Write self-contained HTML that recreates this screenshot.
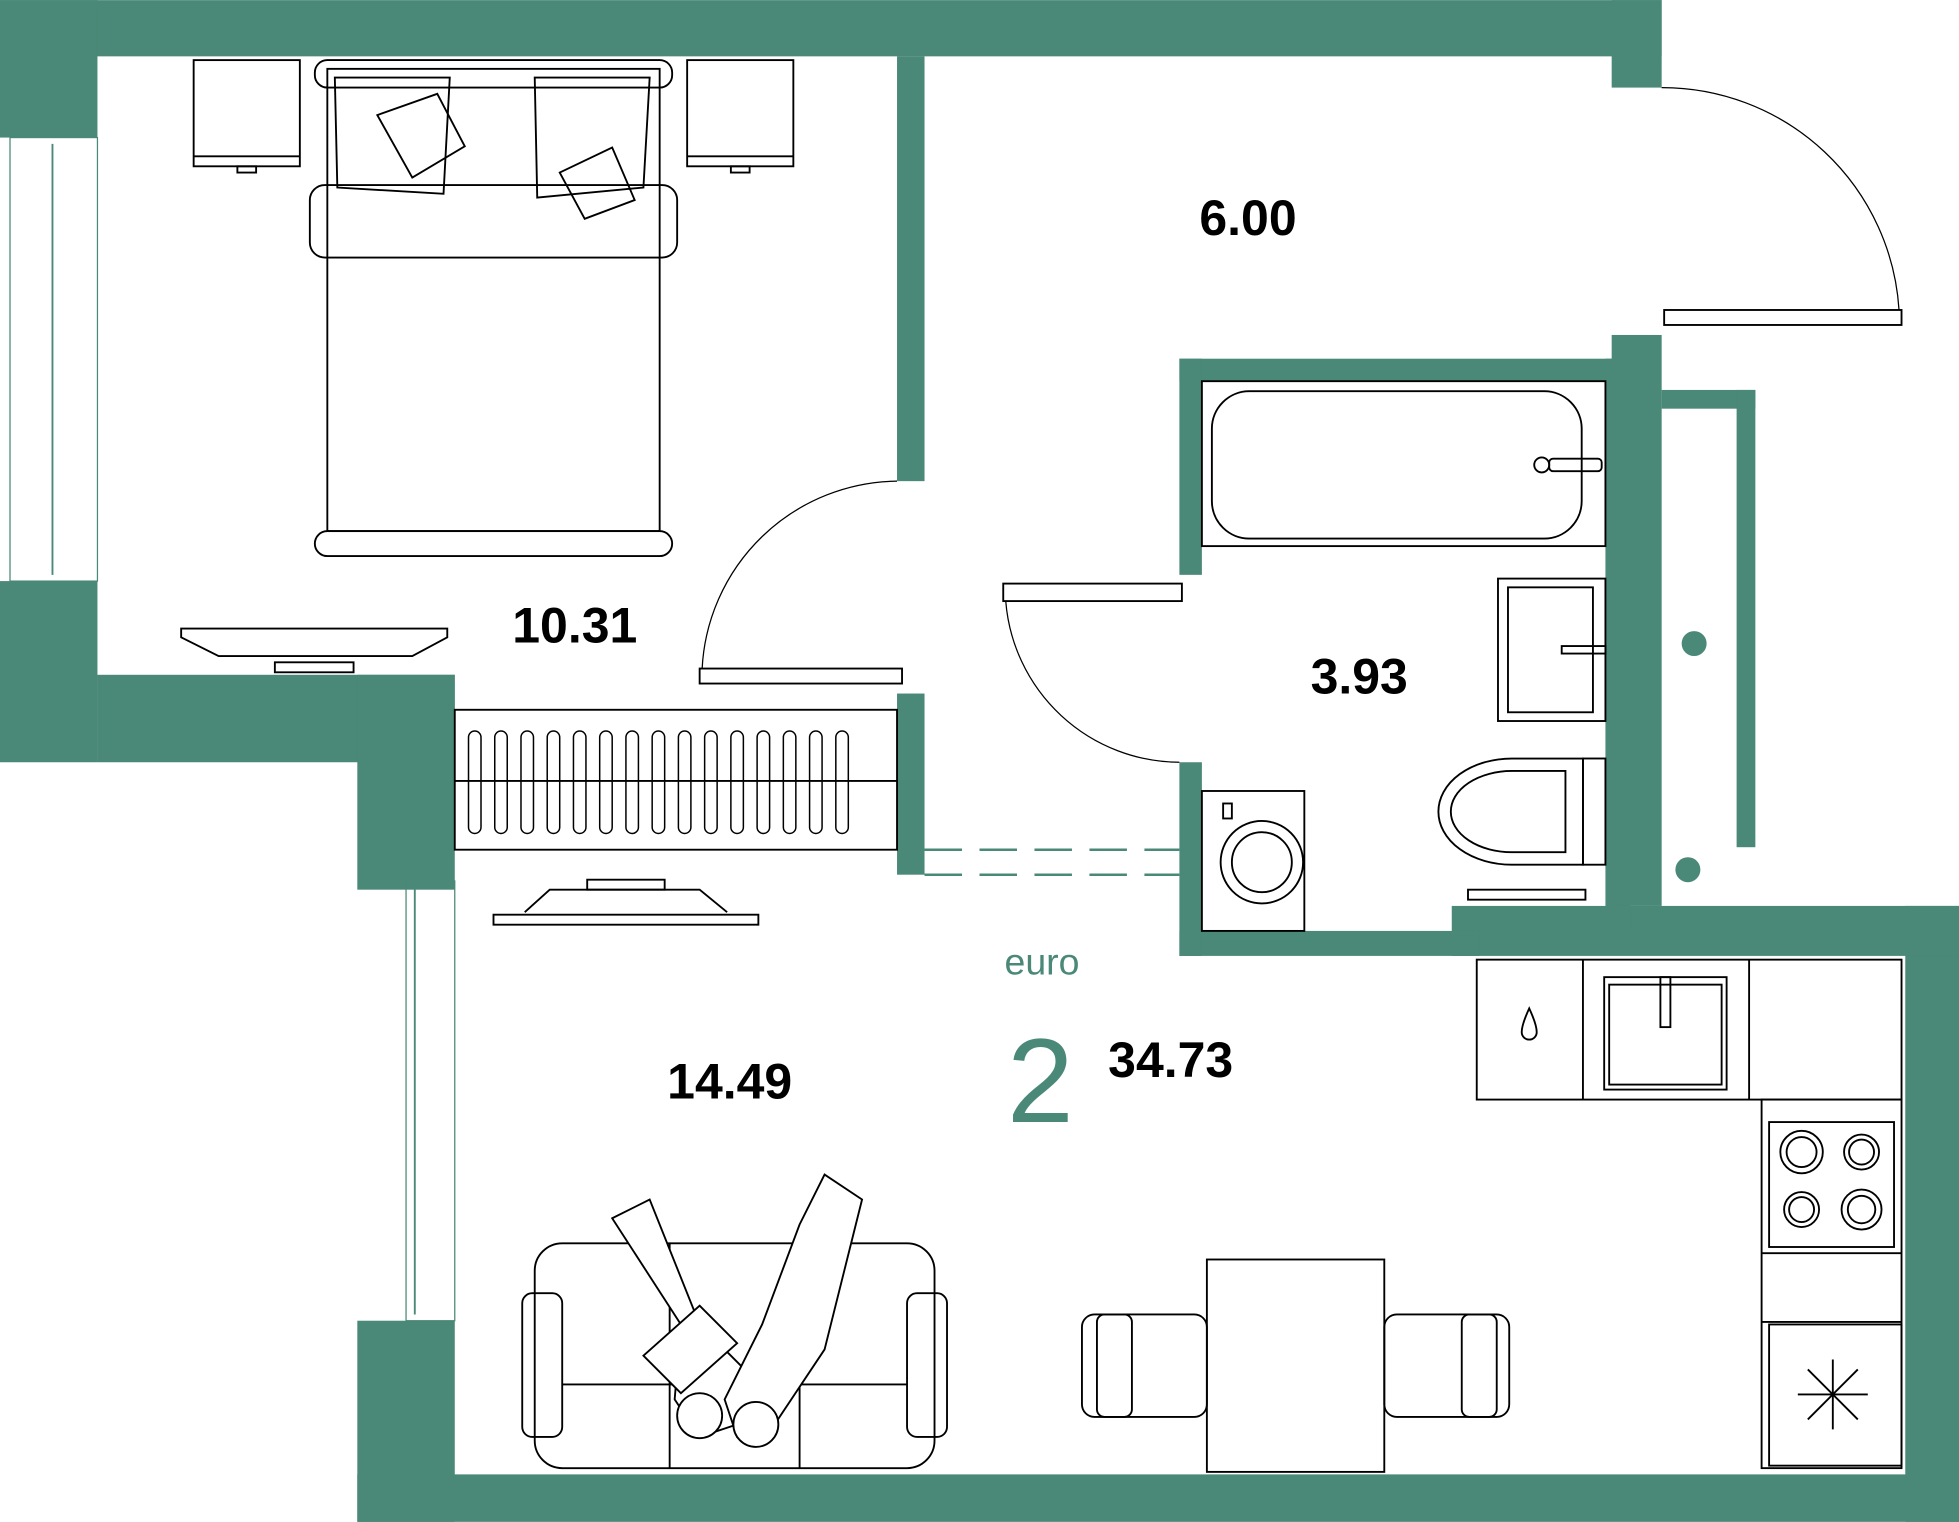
<!DOCTYPE html>
<html><head><meta charset="utf-8"><style>
html,body{margin:0;padding:0;background:#fff;width:1959px;height:1522px;overflow:hidden}
svg{display:block}
text{font-family:"Liberation Sans",sans-serif}
</style></head><body>
<svg width="1959" height="1522" viewBox="0 0 1568 1218" xmlns="http://www.w3.org/2000/svg">
<g fill="#4a8877">
<!-- top wall -->
<rect x="0" y="0" width="1330" height="45"/>
<rect x="1290" y="0" width="40" height="70"/>
<rect x="0" y="0" width="78" height="110"/>
<rect x="0" y="465" width="78" height="145"/>
<rect x="78" y="540" width="286" height="70"/>
<rect x="286" y="540" width="78" height="172"/>
<rect x="286" y="1057" width="78" height="161"/>
<rect x="286" y="1180" width="1282" height="38"/>
<rect x="1525" y="725" width="43" height="493"/>
<rect x="1162" y="725" width="406" height="40"/>
<rect x="944" y="745" width="240" height="20"/>
<!-- bedroom wall -->
<rect x="718" y="45" width="22" height="340"/>
<rect x="718" y="555" width="22" height="145"/>
<!-- bathroom -->
<rect x="944" y="287" width="360" height="18"/>
<rect x="944" y="287" width="18" height="173"/>
<rect x="944" y="610" width="18" height="155"/>
<rect x="1285" y="287" width="20" height="458"/>
<rect x="1290" y="268" width="40" height="457"/>
<!-- balcony rail -->
<rect x="1330" y="312" width="75" height="15"/>
<rect x="1390" y="312" width="15" height="366"/>
<circle cx="1356" cy="515" r="10"/>
<circle cx="1351" cy="696" r="10"/>
</g>
<g fill="none" stroke="#000" stroke-width="1.5">
<!-- windows -->
<rect x="8" y="110" width="70" height="355" stroke="#4a8877" stroke-width="1"/>
<line x1="42" y1="115" x2="42" y2="460" stroke="#4a8877"/>
<rect x="325" y="705" width="39" height="352" stroke="#4a8877" stroke-width="1"/>
<line x1="332" y1="710" x2="332" y2="1052" stroke="#4a8877"/>
<!-- dashed opening -->
<line x1="740" y1="680" x2="944" y2="680" stroke="#4a8877" stroke-dasharray="30,14" stroke-width="2"/>
<line x1="740" y1="700" x2="944" y2="700" stroke="#4a8877" stroke-dasharray="30,14" stroke-width="2"/>
<!-- doors -->
<rect x="1332" y="248" width="190" height="12"/>
<path d="M1330 70 A190 190 0 0 1 1520 248" stroke-width="1"/>
<rect x="560" y="535" width="162" height="12"/>
<path d="M718 385 A158 158 0 0 0 562 535" stroke-width="1"/>
<rect x="803" y="467" width="143" height="14"/>
<path d="M805 481 A140 140 0 0 0 944 610" stroke-width="1"/>
<!-- bed -->
<rect x="155" y="48" width="85" height="85"/>
<line x1="155" y1="125" x2="240" y2="125"/>
<rect x="190" y="133" width="15" height="5"/>
<rect x="550" y="48" width="85" height="85"/>
<line x1="550" y1="125" x2="635" y2="125"/>
<rect x="585" y="133" width="15" height="5"/>
<rect x="252" y="48" width="286" height="22" rx="10"/>
<rect x="262" y="55" width="266" height="370"/>
<rect x="248" y="148" width="294" height="58" rx="12"/>
<rect x="252" y="425" width="286" height="20" rx="10"/>
<path d="M268 62 L360 62 L355 155 L270 150 Z"/>
<path d="M302 92 L350 75 L372 117 L330 142 Z"/>
<path d="M428 62 L520 62 L515 150 L430 158 Z"/>
<path d="M448 138 L490 118 L508 160 L468 175 Z"/>
<!-- TV bedroom -->
<path d="M145 503 L358 503 L358 510 L330 525 L175 525 L145 510 Z"/>
<rect x="220" y="530" width="63" height="8"/>
<!-- wardrobe -->
<rect x="364" y="568" width="354" height="112"/>
<line x1="364" y1="625" x2="718" y2="625"/>
<g stroke-width="1.2">
<rect x="375" y="585" width="10" height="82" rx="5"/><rect x="396" y="585" width="10" height="82" rx="5"/><rect x="417" y="585" width="10" height="82" rx="5"/><rect x="438" y="585" width="10" height="82" rx="5"/><rect x="459" y="585" width="10" height="82" rx="5"/><rect x="480" y="585" width="10" height="82" rx="5"/><rect x="501" y="585" width="10" height="82" rx="5"/><rect x="522" y="585" width="10" height="82" rx="5"/><rect x="543" y="585" width="10" height="82" rx="5"/><rect x="564" y="585" width="10" height="82" rx="5"/><rect x="585" y="585" width="10" height="82" rx="5"/><rect x="606" y="585" width="10" height="82" rx="5"/><rect x="627" y="585" width="10" height="82" rx="5"/><rect x="648" y="585" width="10" height="82" rx="5"/><rect x="669" y="585" width="10" height="82" rx="5"/>
</g>
<!-- TV living -->
<path d="M395 732 L607 732 L607 740 L395 740 Z"/>
<path d="M420 730 L440 712 L560 712 L582 730"/>
<rect x="470" y="704" width="62" height="8"/>
<!-- bath -->
<rect x="962" y="305" width="323" height="132"/>
<rect x="970" y="313" width="296" height="118" rx="30"/>
<rect x="1240" y="367" width="42" height="10" rx="3"/>
<circle cx="1234" cy="372" r="6"/>
<!-- sink -->
<rect x="1199" y="463" width="86" height="114"/>
<rect x="1207" y="470" width="68" height="100"/>
<rect x="1250" y="517" width="35" height="6"/>
<!-- toilet -->
<path d="M1267 607 L1210 607 A58 42 0 0 0 1210 692 L1267 692 Z"/>
<path d="M1253 617 L1210 617 A48 32 0 0 0 1210 682 L1253 682 Z"/>
<rect x="1267" y="607" width="18" height="85"/>
<rect x="1175" y="712" width="94" height="8"/>
<!-- washer -->
<rect x="962" y="633" width="82" height="112"/>
<circle cx="1010" cy="690" r="33"/><circle cx="1010" cy="690" r="24"/>
<rect x="979" y="643" width="7" height="12"/>
<!-- kitchen -->
<rect x="1182" y="768" width="340" height="112"/>
<line x1="1267" y1="768" x2="1267" y2="880"/>
<line x1="1400" y1="768" x2="1400" y2="880"/>
<rect x="1284" y="782" width="98" height="90"/>
<rect x="1288" y="788" width="90" height="80"/>
<rect x="1329" y="782" width="8" height="40"/>
<path d="M1224 807 Q1218 820 1218 826 A6 6 0 0 0 1230 826 Q1230 820 1224 807 Z"/>
<rect x="1410" y="880" width="112" height="295"/>
<rect x="1416" y="898" width="100" height="100"/>
<circle cx="1442" cy="922" r="17"/><circle cx="1442" cy="922" r="12"/>
<circle cx="1490" cy="922" r="14"/><circle cx="1490" cy="922" r="10"/>
<circle cx="1442" cy="968" r="14"/><circle cx="1442" cy="968" r="10"/>
<circle cx="1490" cy="968" r="16"/><circle cx="1490" cy="968" r="11"/>
<line x1="1410" y1="1003" x2="1522" y2="1003"/>
<line x1="1410" y1="1058" x2="1522" y2="1058"/>
<rect x="1416" y="1060" width="106" height="113"/>
<g stroke-width="1.5"><line x1="1467" y1="1088" x2="1467" y2="1144"/><line x1="1439" y1="1116" x2="1495" y2="1116"/><line x1="1447" y1="1096" x2="1487" y2="1136"/><line x1="1487" y1="1096" x2="1447" y2="1136"/></g>
<!-- table -->
<rect x="966" y="1008" width="142" height="170"/>
<rect x="866" y="1052" width="100" height="82" rx="10"/>
<rect x="878" y="1052" width="28" height="82" rx="6"/>
<rect x="1108" y="1052" width="100" height="82" rx="10"/>
<rect x="1170" y="1052" width="28" height="82" rx="6"/>
<!-- sofa -->
<rect x="428" y="995" width="320" height="180" rx="22"/>
<rect x="418" y="1035" width="32" height="115" rx="8"/>
<rect x="726" y="1035" width="32" height="115" rx="8"/>
<line x1="450" y1="1108" x2="726" y2="1108"/>
<line x1="536" y1="995" x2="536" y2="1175"/>
<line x1="640" y1="995" x2="640" y2="1175"/>
<path d="M490 975 L520 960 L560 1060 L600 1100 L590 1140 L560 1150 L540 1120 L545 1060 Z" fill="#fff"/>
<path d="M660 940 L690 960 L680 1000 L660 1080 L620 1140 L590 1150 L580 1120 L610 1060 L640 980 Z" fill="#fff"/>
<path d="M515 1085 L560 1045 L590 1075 L545 1115 Z" fill="#fff"/>
<circle cx="560" cy="1133" r="18" fill="#fff"/><circle cx="605" cy="1140" r="18" fill="#fff"/>
</g>
<g font-weight="bold" fill="#000" font-size="40">
<text x="960" y="188">6.00</text>
<text x="410" y="514">10.31</text>
<text x="1049" y="555">3.93</text>
<text x="534" y="879">14.49</text>
<text x="887" y="862">34.73</text>
</g>
<text x="804" y="780" font-size="30" fill="#4a8877">euro</text>
<text x="806" y="898" font-size="96" fill="#4a8877">2</text>
</svg>
</body></html>
